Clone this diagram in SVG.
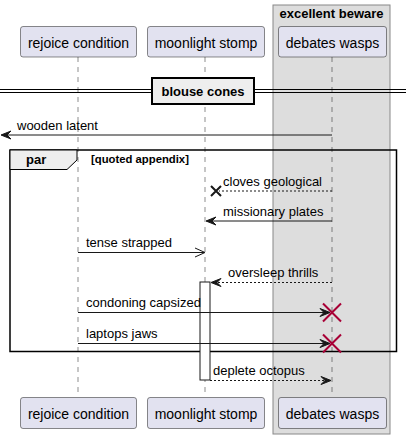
<svg xmlns="http://www.w3.org/2000/svg" width="412" height="439" viewBox="0 0 412 439">
<style>
text{font-family:"Liberation Sans",Arial,sans-serif;fill:#000}
.msg{font-size:13px}
.part{font-size:14px;text-anchor:middle}
.bold{font-weight:bold}
.pbox{fill:#E2E2F0;stroke:#181818;stroke-width:0.5}
.life{stroke:#181818;stroke-width:0.5;stroke-dasharray:5,5}
.ln{stroke:#181818;stroke-width:1;fill:none}
.dash{stroke:#181818;stroke-width:1;stroke-dasharray:2,2;fill:none}
.head{fill:#181818;stroke:#181818;stroke-width:1}
.kill{stroke:#A80036;stroke-width:2}
</style>
<g id="box-excellent-beware">
<rect x="273" y="5" width="117" height="429" fill="#DDDDDD" stroke="#888888" stroke-width="1"/>
<text class="bold" x="331.5" y="17.5" font-size="13" text-anchor="middle">excellent beware</text>
</g>
<g id="lifelines">
<line class="life" x1="78" y1="57" x2="78" y2="397"/>
<line class="life" x1="205" y1="57" x2="205" y2="397"/>
<line class="life" x1="332" y1="57" x2="332" y2="397"/>
</g>
<g id="rejoice-condition">
<rect class="pbox" x="20.5" y="26.5" width="116" height="30.5" rx="2.5"/>
<text class="part" x="78.5" y="48">rejoice condition</text>
<rect class="pbox" x="20.5" y="397.5" width="116" height="31" rx="2.5"/>
<text class="part" x="78.5" y="419">rejoice condition</text>
</g>
<g id="moonlight-stomp">
<rect class="pbox" x="147.5" y="26.5" width="117" height="30.5" rx="2.5"/>
<text class="part" x="206" y="48">moonlight stomp</text>
<rect class="pbox" x="147.5" y="397.5" width="117" height="31" rx="2.5"/>
<text class="part" x="206" y="419">moonlight stomp</text>
</g>
<g id="debates-wasps">
<rect class="pbox" x="278.5" y="26.5" width="108" height="30.5" rx="2.5"/>
<text class="part" x="332.5" y="48">debates wasps</text>
<rect class="pbox" x="278.5" y="397.5" width="108" height="31" rx="2.5"/>
<text class="part" x="332.5" y="419">debates wasps</text>
</g>
<g id="divider-blouse-cones">
<line x1="0" y1="89.5" x2="406" y2="89.5" stroke="#000" stroke-width="1"/>
<line x1="0" y1="92.5" x2="406" y2="92.5" stroke="#000" stroke-width="1"/>
<rect x="152" y="78" width="102" height="26" fill="#EEEEEE" stroke="#000" stroke-width="2"/>
<text class="bold" x="203" y="96" font-size="13" text-anchor="middle">blouse cones</text>
</g>
<g id="par-frame">
<rect x="10" y="150" width="386.5" height="201.5" fill="none" stroke="#000" stroke-width="1.5"/>
<polygon points="10,150 77,150 77,160 67,169.5 10,169.5" fill="#EEEEEE" stroke="#000" stroke-width="1"/>
<text class="bold" x="26" y="164" font-size="13">par</text>
<text class="bold" x="91" y="162.5" font-size="11.3">[quoted appendix]</text>
</g>
<g id="activation">
<rect x="200" y="282" width="10" height="98" fill="#FFFFFF" stroke="#181818" stroke-width="1"/>
</g>
<g id="connectors">
<line class="ln" x1="332" y1="135" x2="2" y2="135"/>
<polygon class="head" points="1,135 11,131 7,135 11,139"/>
<text class="msg" x="17" y="130">wooden latent</text>

<line class="dash" x1="332" y1="191" x2="219" y2="191"/>
<path d="M211,186 L221,196 M211,196 L221,186" stroke="#181818" stroke-width="2"/>
<text class="msg" x="223" y="186">cloves geological</text>

<line class="ln" x1="332" y1="221" x2="207" y2="221"/>
<polygon class="head" points="206,221 216,217 212,221 216,225"/>
<text class="msg" x="223" y="216">missionary plates</text>

<line class="ln" x1="78" y1="252.5" x2="204" y2="252.5"/>
<path d="M195,248 L205,252.5 L195,257" class="ln"/>
<text class="msg" x="86" y="247">tense strapped</text>

<line class="dash" x1="332" y1="282.5" x2="213" y2="282.5"/>
<polygon class="head" points="211,282.5 221,278.5 217,282.5 221,286.5"/>
<text class="msg" x="228" y="277">oversleep thrills</text>

<line class="ln" x1="78" y1="312.5" x2="328" y2="312.5"/>
<polygon class="head" points="330,312.5 320,308.5 324,312.5 320,316.5"/>
<path class="kill" d="M323,303.5 L341,321.5 M323,321.5 L341,303.5"/>
<text class="msg" x="86" y="307">condoning capsized</text>

<line class="ln" x1="78" y1="343.5" x2="328" y2="343.5"/>
<polygon class="head" points="330,343.5 320,339.5 324,343.5 320,347.5"/>
<path class="kill" d="M323,334.5 L341,352.5 M323,352.5 L341,334.5"/>
<text class="msg" x="86" y="338">laptops jaws</text>

<line class="dash" x1="210" y1="380.5" x2="329" y2="380.5"/>
<polygon class="head" points="331,380.5 321,376.5 325,380.5 321,384.5"/>
<text class="msg" x="213" y="375">deplete octopus</text>
</g>
</svg>
